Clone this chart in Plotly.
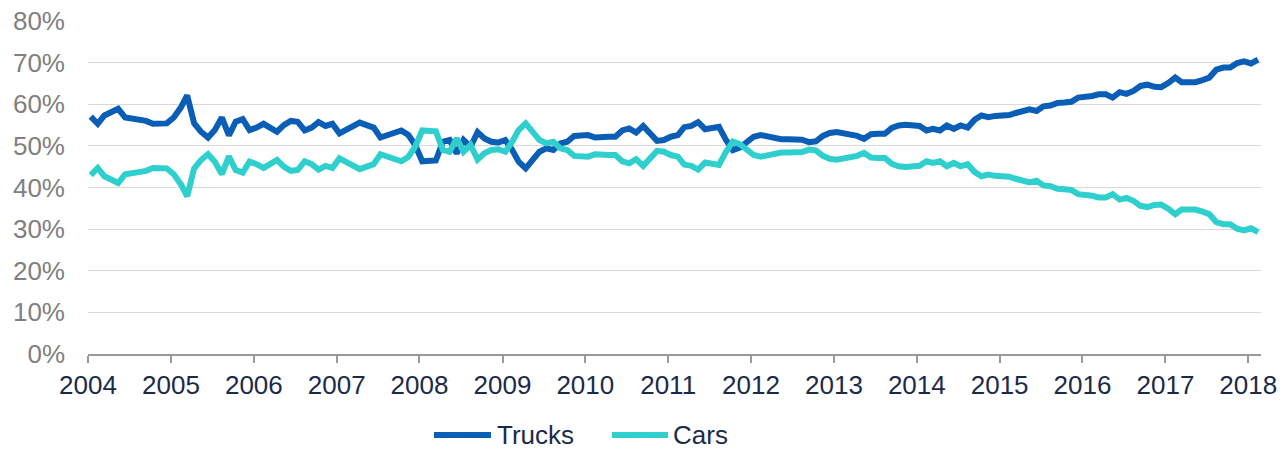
import pandas as pd
import plotly.graph_objects as go

# Monthly share of sales, Jan 2004 - Feb 2018 (percent)
start_month = "2004-01-01"
trucks = [
    57.0, 55.3, 57.3, 58.0, 58.9, 56.8, 56.6, 56.1, 56.0, 55.3, 55.4, 55.4,  # 2004
    56.8, 59.2, 62.1, 55.4, 53.4, 52.0, 53.8, 56.8, 52.5, 55.8, 56.4, 53.8,  # 2005
    54.4, 55.3, 54.4, 53.4, 55.0, 56.0, 55.8, 53.7, 54.4, 55.7, 54.8, 55.3,  # 2006
    53.0, 53.8, 54.6, 55.6, 55.0, 54.4, 52.0, 52.6, 53.2, 53.7, 52.6, 50.2,  # 2007
    46.3, 46.3, 46.5, 51.0, 51.4, 48.2, 51.4, 49.8, 53.3, 51.8, 51.0, 50.8,  # 2008
    51.4, 49.0, 46.2, 44.6, 46.8, 48.6, 49.4, 49.0, 50.6, 51.0, 52.4, 52.6,  # 2009
    52.6, 52.0, 52.2, 52.2, 52.2, 53.7, 54.2, 53.2, 54.8, 53.0, 51.2, 51.4,  # 2010
    52.2, 52.6, 54.5, 54.8, 55.7, 54.0, 54.2, 54.6, 51.4, 49.0, 49.6, 50.8,  # 2011
    52.2, 52.6, 52.2, 51.8, 51.6, 51.6, 51.5, 51.5, 50.9, 51.1, 52.4, 53.1,  # 2012
    53.3, 53.1, 52.7, 52.4, 51.7, 52.8, 52.9, 52.9, 54.3, 54.9, 55.1, 54.9,  # 2013
    54.8, 53.7, 54.1, 53.7, 54.9, 54.1, 54.9, 54.4, 56.3, 57.3, 56.9, 57.2,  # 2014
    57.2, 57.4, 57.9, 58.5, 58.8, 58.4, 59.5, 59.7, 60.3, 60.4, 60.6, 61.6,  # 2015
    61.7, 62.0, 62.4, 62.4, 61.6, 62.9, 62.5, 63.2, 64.4, 64.7, 64.2, 64.1,  # 2016
    65.1, 66.4, 65.3, 65.2, 65.3, 65.8, 66.4, 68.3, 68.8, 68.8, 69.9, 70.3,  # 2017
    69.8, 70.7,                                                              # 2018
]
cars = [
    43.0, 44.7, 42.7, 42.0, 41.1, 43.2, 43.4, 43.9, 44.0, 44.7, 44.6, 44.6,  # 2004
    43.2, 40.8, 37.9, 44.6, 46.6, 48.0, 46.2, 43.2, 47.5, 44.2, 43.6, 46.2,  # 2005
    45.6, 44.7, 45.6, 46.6, 45.0, 44.0, 44.2, 46.3, 45.6, 44.3, 45.2, 44.7,  # 2006
    47.0, 46.2, 45.4, 44.4, 45.0, 45.6, 48.0, 47.4, 46.8, 46.3, 47.4, 49.8,  # 2007
    53.7, 53.7, 53.5, 49.0, 48.6, 51.8, 48.6, 50.2, 46.7, 48.2, 49.0, 49.2,  # 2008
    48.6, 51.0, 53.8, 55.4, 53.2, 51.4, 50.6, 51.0, 49.4, 49.0, 47.6, 47.4,  # 2009
    47.4, 48.0, 47.8, 47.8, 47.8, 46.3, 45.8, 46.8, 45.2, 47.0, 48.8, 48.6,  # 2010
    47.8, 47.4, 45.5, 45.2, 44.3, 46.0, 45.8, 45.4, 48.6, 51.0, 50.4, 49.2,  # 2011
    47.8, 47.4, 47.8, 48.2, 48.4, 48.4, 48.5, 48.5, 49.1, 48.9, 47.6, 46.9,  # 2012
    46.7, 46.9, 47.3, 47.6, 48.3, 47.2, 47.1, 47.1, 45.7, 45.1, 44.9, 45.1,  # 2013
    45.2, 46.3, 45.9, 46.3, 45.1, 45.9, 45.1, 45.6, 43.7, 42.7, 43.1, 42.8,  # 2014
    42.8, 42.6, 42.1, 41.5, 41.2, 41.6, 40.5, 40.3, 39.7, 39.6, 39.4, 38.4,  # 2015
    38.3, 38.0, 37.6, 37.6, 38.4, 37.1, 37.5, 36.8, 35.6, 35.3, 35.8, 35.9,  # 2016
    34.9, 33.6, 34.7, 34.8, 34.7, 34.2, 33.6, 31.7, 31.2, 31.2, 30.1, 29.7,  # 2017
    30.2, 29.3,                                                              # 2018
]
year_ticks = list(range(2004, 2019))
y_ticks = [0, 10, 20, 30, 40, 50, 60, 70, 80]

TRUCK_COLOR = "#0A5EB6"
CAR_COLOR = "#2FCFCE"
NAVY = "#1B2A4A"
GREY = "#808080"
FONT = "Liberation Sans, Arial, sans-serif"

months = pd.date_range(start_month, periods=len(trucks), freq="MS") + pd.Timedelta(days=12)

fig = go.Figure()
fig.add_trace(go.Scatter(x=months, y=trucks, mode="lines", name="Trucks",
                         line=dict(color=TRUCK_COLOR, width=6)))
fig.add_trace(go.Scatter(x=months, y=cars, mode="lines", name="Cars",
                         line=dict(color=CAR_COLOR, width=6)))

ML, MR, MT, MB = 88, 23, 21, 95
W, H = 1284, 449

fig.update_layout(
    width=W, height=H,
    margin=dict(l=ML, r=MR, t=MT, b=MB, autoexpand=False),
    plot_bgcolor="white", paper_bgcolor="white",
    showlegend=False,
    font=dict(family=FONT, size=26, color=NAVY),
)
fig.update_xaxes(
    type="date", automargin=False,
    range=["2004-01-01", "2018-02-26"],
    tickvals=[pd.Timestamp(f"{y}-01-01") for y in year_ticks],
    ticktext=[str(y) for y in year_ticks],
    ticks="outside", ticklen=7, tickcolor="#9A9A9A", tickwidth=1.5,
    showline=True, linecolor="#9A9A9A", linewidth=1.5,
    showgrid=False, zeroline=False,
    tickfont=dict(family=FONT, size=26, color=NAVY),
)
fig.update_yaxes(
    range=[0, 80], automargin=False,
    tickvals=y_ticks,
    ticktext=[f"{v}%" for v in y_ticks],
    showgrid=True, gridcolor="#D9D9D9", gridwidth=1.3,
    zeroline=False, showline=False, ticks="",
    ticklabelstandoff=22,
    tickfont=dict(family=FONT, size=26, color=GREY),
)

# legend drawn below the plot area
def px_x(p):
    return (p - ML) / (W - ML - MR)

leg_y = ((H - MB) - 435) / (H - MT - MB)
for (x0, x1, tx, label, color) in [(434, 491, 496, "Trucks", TRUCK_COLOR),
                                   (612, 668, 672, "Cars", CAR_COLOR)]:
    fig.add_shape(type="line", xref="paper", yref="paper",
                  x0=px_x(x0), x1=px_x(x1), y0=leg_y, y1=leg_y,
                  line=dict(color=color, width=6))
    fig.add_annotation(xref="paper", yref="paper", x=px_x(tx), y=leg_y,
                       text=label, showarrow=False, xanchor="left", yanchor="middle",
                       borderpad=0,
                       font=dict(family=FONT, size=26, color=NAVY))

fig.write_html("out.html",
               config={"displayModeBar": False},
               post_script="document.body.style.margin='0';document.body.style.overflow='hidden';")
